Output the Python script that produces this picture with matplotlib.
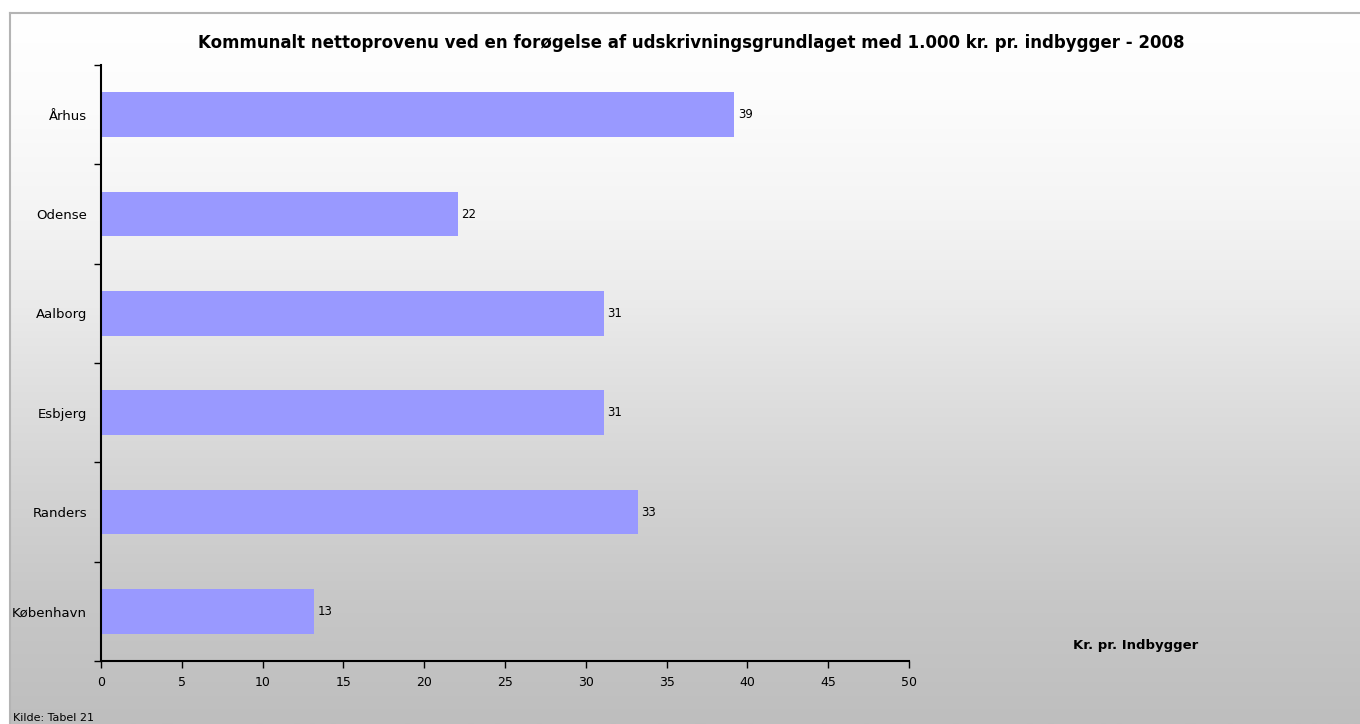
import numpy as np
import matplotlib.pyplot as plt

# data
kommuner = ['Århus', 'Odense', 'Aalborg', 'Esbjerg', 'Randers', 'København']
provenu = [39.2, 22.1, 31.1, 31.1, 33.2, 13.2]
xticks = [0, 5, 10, 15, 20, 25, 30, 35, 40, 45, 50]

W, H = 1360, 724
fig = plt.figure(figsize=(W / 100, H / 100), dpi=100)
fig.patch.set_facecolor('white')

# gradient panel background (white top -> grey bottom)
bg = fig.add_axes([10 / W, 0, 1 - 10 / W, 1 - 13 / H], zorder=0)
rows = np.linspace(13, 724, 400)
grey = np.interp(rows, [13, 100, 200, 300, 400, 500, 600, 724],
                 [255, 252, 245, 235, 222, 210, 199, 190]) / 255
grad = grey.reshape(-1, 1)
bg.imshow(np.dstack([grad, grad, grad]), aspect='auto', extent=[0, 1, 0, 1])
bg.set_xticks([])
bg.set_yticks([])
for side in ['right', 'bottom']:
    bg.spines[side].set_visible(False)
for side in ['top', 'left']:
    bg.spines[side].set_color('#b4b4b4')
    bg.spines[side].set_linewidth(1.5)

ax = fig.add_axes([101 / W, 1 - 661 / H, (909 - 101) / W, (661 - 65) / H], zorder=1)
ax.patch.set_alpha(0)

y = np.arange(len(kommuner))
bars = ax.barh(y, provenu, height=0.45, color='#9999ff', edgecolor='none')
for b, v in zip(bars, provenu):
    ax.text(v + 0.2, b.get_y() + b.get_height() / 2, '%d' % round(v),
            va='center', ha='left', fontsize=8.5, color='black')

ax.set_ylim(len(kommuner) - 0.5, -0.5)
ax.set_xlim(0, 50)
ax.set_xticks(xticks)
ax.set_yticks(y)
ax.set_yticklabels(kommuner)
ax.set_yticks(np.arange(-0.5, len(kommuner), 1), minor=True)
ax.tick_params(axis='y', which='major', length=0, labelsize=9.5, pad=10)
ax.tick_params(axis='y', which='minor', length=5, direction='out', width=1)
ax.tick_params(axis='x', length=5, direction='out', width=1, labelsize=9, pad=6)
for side in ['top', 'right']:
    ax.spines[side].set_visible(False)
for side in ['left', 'bottom']:
    ax.spines[side].set_linewidth(1.5)

fig.text(691 / W, 1 - 43 / H,
         'Kommunalt nettoprovenu ved en forøgelse af udskrivningsgrundlaget med 1.000 kr. pr. indbygger - 2008',
         ha='center', va='center', fontsize=12, fontweight='bold')
fig.text(1136 / W, 1 - 646 / H, 'Kr. pr. Indbygger', ha='center', va='center',
         fontsize=9.5, fontweight='bold')
fig.text(13 / W, 1 - 718 / H, 'Kilde: Tabel 21', ha='left', va='center', fontsize=8)

fig.savefig('out.png', dpi=100)
